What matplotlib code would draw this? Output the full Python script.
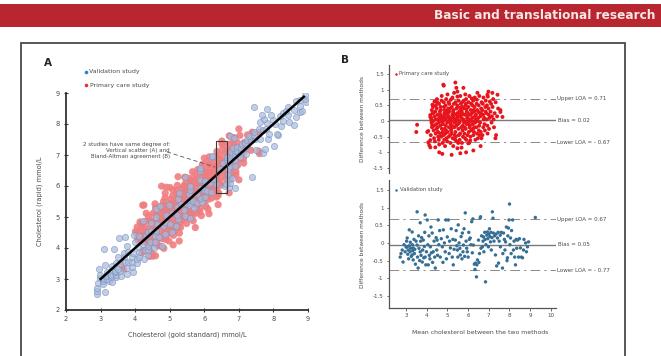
import matplotlib
matplotlib.use('Agg')
import matplotlib.pyplot as plt
import numpy as np
from matplotlib.patches import Rectangle
from matplotlib.lines import Line2D
from matplotlib.transforms import blended_transform_factory

plt.rcParams['font.family'] = ['DejaVu Sans']
plt.rcParams['lines.scale_dashes'] = False

# ---------------- data ----------------
# Bland-Altman (mean of methods, rapid - gold) pairs
validation_ba = [
    (2.71,-0.40),(2.75,-0.30),(2.81,-0.20),(2.85,-0.54),(2.90,-0.05),(2.95,-0.25),(3.00,-0.12),(3.02,0.05),
    (3.05,-0.11),(3.05,0.14),(3.08,-0.32),(3.10,-0.20),(3.12,-0.45),(3.15,0.37),(3.15,-0.08),(3.19,-0.25),
    (3.20,0.02),(3.22,-0.15),(3.25,-0.38),(3.29,0.31),(3.29,-0.34),(3.30,-0.05),(3.32,-0.22),(3.34,-0.14),
    (3.34,-0.48),(3.38,0.10),(3.40,-0.30),(3.42,-0.18),(3.45,-0.60),(3.48,0.05),
    (3.53,0.88),(3.53,-0.06),(3.55,-0.40),(3.58,-0.71),(3.60,0.20),(3.62,-0.15),(3.65,-0.50),(3.68,0.57),
    (3.68,-0.25),(3.70,0.05),(3.72,-0.35),(3.75,0.15),(3.78,-0.54),(3.80,-0.20),(3.83,0.08),(3.85,-0.42),
    (3.88,-0.10),(3.90,0.30),(3.92,0.79),(3.92,-0.40),(3.95,-0.62),(3.98,-0.25),(4.02,0.65),(4.05,-0.05),
    (4.07,-0.62),(4.10,0.20),(4.12,-0.35),(4.15,-0.45),(4.17,-0.11),(4.20,0.45),(4.22,-0.28),(4.26,0.28),
    (4.28,-0.55),(4.31,-0.25),(4.35,0.05),(4.38,-0.40),(4.41,-0.71),(4.45,0.15),(4.48,-0.20),(4.50,0.08),
    (4.52,-0.35),(4.55,0.65),(4.58,-0.05),(4.62,0.35),(4.65,-0.40),(4.70,0.12),(4.75,-0.11),(4.78,-0.55),
    (4.80,0.37),(4.85,0.00),(4.89,-0.25),(4.92,0.65),(4.95,-0.45),(4.99,0.17),(5.04,0.65),(5.08,-0.30),
    (5.10,0.05),(5.14,-0.14),(5.18,0.40),(5.23,-0.40),(5.26,0.10),(5.28,-0.62),(5.32,-0.18),(5.38,0.08),
    (5.42,0.35),(5.45,-0.08),(5.48,-0.20),(5.50,-0.40),
    (5.52,0.51),(5.56,0.00),(5.60,-0.15),(5.62,-0.34),(5.66,0.18),(5.70,-0.45),(5.72,0.28),(5.75,-0.25),
    (5.77,-0.06),(5.80,0.40),(5.83,-0.38),(5.86,0.85),(5.90,0.05),(5.93,-0.15),(5.96,-0.25),(6.00,-0.40),
    (6.03,0.30),(6.06,0.10),(6.10,0.14),(6.13,-0.05),(6.17,0.60),(6.20,-0.28),(6.23,0.68),(6.25,-0.06),
    (6.30,-0.60),(6.33,-0.75),(6.35,-0.57),(6.40,-0.96),(6.42,-0.62),(6.45,-0.48),
    (6.50,0.08),(6.52,-0.55),(6.55,-0.30),(6.58,0.70),(6.60,0.74),(6.62,-0.15),(6.65,0.20),(6.69,-0.11),
    (6.72,0.05),(6.74,0.17),(6.76,-0.25),(6.80,0.30),(6.82,0.10),(6.84,-1.10),(6.86,-0.05),(6.90,0.22),
    (6.93,0.31),(6.95,0.12),(6.98,-0.11),(7.00,0.25),(7.03,0.40),(7.05,0.18),(7.08,0.03),(7.10,0.30),
    (7.12,-0.20),(7.15,0.15),(7.17,0.88),(7.20,0.70),(7.22,0.28),(7.25,0.05),(7.28,0.20),(7.32,-0.34),
    (7.35,0.25),(7.38,-0.65),(7.42,0.14),(7.45,0.30),(7.47,-0.57),(7.50,0.05),(7.55,0.22),(7.56,-0.11),
    (7.60,0.30),(7.66,-0.71),(7.68,-0.30),
    (7.71,0.28),(7.75,0.10),(7.78,-0.20),(7.81,0.03),(7.85,0.45),(7.88,-0.50),(7.90,-0.42),(7.92,0.20),
    (7.95,0.42),(7.98,0.65),(8.00,1.10),(8.02,-0.05),(8.05,0.14),(8.08,-0.30),(8.10,0.35),(8.15,0.65),
    (8.19,-0.20),(8.22,0.05),(8.25,-0.40),(8.29,-0.62),(8.32,0.10),(8.35,-0.15),(8.39,0.08),(8.44,-0.40),
    (8.48,0.12),(8.53,-0.14),(8.58,-0.40),(8.63,-0.42),(8.68,-0.20),(8.70,0.10),(8.78,0.00),(8.82,-0.25),
    (8.87,-0.11),(8.92,0.03),(9.25,0.72),
]

primary_ba = [
    (3.49,-0.35),(3.53,-0.12),(4.02,-0.35),(4.07,-0.32),(4.07,-0.68),(4.12,-0.77),(4.17,-0.61),(4.17,-0.84),
    (4.41,-0.84),(4.75,-1.05),(4.60,-1.00),(4.80,1.16),(4.82,1.13),(5.38,1.23),(5.43,1.06),(5.48,0.94),
    (5.77,1.06),(6.45,0.90),(6.93,0.84),(6.98,0.94),(7.17,0.90),(7.42,0.84),(7.56,0.29),(7.56,0.35),
    (7.66,0.13),(7.32,-0.55),(6.25,-0.94),(5.62,-1.03),(5.48,-0.87),(6.00,-0.71),(4.31,0.26),(4.17,0.13),
    (4.26,-0.13),(4.21,0.03),(4.17,0.19),(5.90,-1.00),(6.60,-0.80),(5.20,-1.08),
    (4.22,0.10),(4.25,-0.20),(4.19,-0.45),(4.24,0.35),(4.27,0.52),(4.23,-0.05),
    (4.28,0.25),(4.33,-0.30),(4.31,0.00),(4.35,-0.55),(4.30,0.45),(4.34,-0.15),(4.37,0.62),
    (4.38,0.15),(4.43,-0.40),(4.41,0.30),(4.45,-0.10),(4.39,-0.65),(4.44,0.50),(4.42,0.05),(4.47,-0.25),
    (4.48,0.40),(4.53,-0.20),(4.51,0.05),(4.55,-0.50),(4.49,0.70),(4.54,-0.35),(4.52,0.20),(4.57,-0.05),(4.50,0.60),
    (4.58,-0.60),(4.63,0.30),(4.61,0.10),(4.65,-0.15),(4.59,0.55),(4.64,-0.40),(4.62,0.00),(4.67,0.45),(4.60,-0.75),(4.66,0.20),
    (4.68,0.35),(4.73,-0.25),(4.71,0.65),(4.75,-0.05),(4.69,-0.50),(4.74,0.15),(4.72,0.80),(4.77,-0.35),(4.70,0.05),(4.76,-0.70),
    (4.78,-0.10),(4.83,0.45),(4.81,-0.45),(4.85,0.25),(4.79,0.00),(4.84,-0.60),(4.82,0.60),(4.87,-0.25),(4.80,0.12),(4.86,0.35),(4.88,-0.80),
    (4.88,0.20),(4.93,-0.30),(4.91,0.50),(4.95,-0.55),(4.89,0.05),(4.94,0.70),(4.92,-0.15),(4.97,0.32),(4.90,-0.40),(4.96,0.10),
    (4.98,-0.05),(5.03,0.40),(5.01,-0.35),(5.05,0.60),(4.99,-0.65),(5.04,0.15),(5.02,0.25),(5.07,-0.20),(5.00,0.85),(5.06,-0.50),(5.08,0.00),
    (5.08,0.30),(5.13,-0.45),(5.11,0.10),(5.15,-0.10),(5.09,0.55),(5.14,-0.70),(5.12,0.40),(5.17,-0.25),(5.10,0.05),(5.16,0.68),
    (5.18,-0.30),(5.23,0.20),(5.21,0.45),(5.25,-0.55),(5.19,0.00),(5.24,0.75),(5.22,-0.15),(5.27,0.30),(5.20,-0.40),(5.26,0.10),(5.28,-0.80),
    (5.28,0.15),(5.33,-0.20),(5.31,0.55),(5.35,-0.45),(5.29,0.35),(5.34,-0.05),(5.32,0.90),(5.37,-0.60),(5.30,0.25),(5.36,0.05),
    (5.38,-0.35),(5.43,0.40),(5.41,0.00),(5.45,-0.65),(5.39,0.60),(5.44,0.20),(5.42,-0.15),(5.47,0.50),(5.40,-0.50),(5.46,0.10),(5.48,0.78),
    (5.48,0.25),(5.53,-0.25),(5.51,0.45),(5.55,-0.45),(5.49,0.05),(5.54,0.65),(5.52,-0.70),(5.57,0.30),(5.50,-0.10),(5.56,0.15),
    (5.58,-0.05),(5.63,0.35),(5.61,-0.40),(5.65,0.55),(5.59,-0.60),(5.64,0.20),(5.62,0.80),(5.67,-0.20),(5.60,0.00),(5.66,0.42),(5.68,-0.85),
    (5.68,0.10),(5.73,-0.30),(5.71,0.60),(5.75,-0.50),(5.69,0.30),(5.74,-0.15),(5.72,0.45),(5.77,0.05),(5.70,-0.70),(5.76,0.22),
    (5.78,0.40),(5.83,-0.20),(5.81,0.00),(5.85,-0.55),(5.79,0.65),(5.84,0.20),(5.82,-0.40),(5.87,0.50),(5.80,-0.05),(5.86,0.85),
    (5.88,-0.25),(5.93,0.30),(5.91,-0.60),(5.95,0.10),(5.89,0.55),(5.94,-0.10),(5.92,0.38),(5.97,-0.45),(5.90,0.70),(5.96,0.00),
    (5.98,0.15),(6.03,-0.35),(6.01,0.45),(6.05,-0.70),(5.99,0.25),(6.04,-0.05),(6.02,0.60),(6.07,-0.20),(6.00,0.05),(6.06,0.80),
    (6.08,-0.15),(6.13,0.35),(6.11,-0.50),(6.15,0.55),(6.09,0.05),(6.14,-0.30),(6.12,0.20),(6.17,0.72),(6.10,-0.62),
    (6.18,0.25),(6.23,-0.25),(6.21,0.50),(6.25,-0.45),(6.19,0.00),(6.24,0.65),(6.22,-0.10),(6.27,0.35),(6.20,0.10),
    (6.28,-0.35),(6.33,0.15),(6.31,0.45),(6.35,-0.60),(6.29,0.30),(6.34,-0.05),(6.32,0.75),(6.37,0.05),(6.30,-0.20),
    (6.38,0.20),(6.43,-0.40),(6.41,0.55),(6.45,0.00),(6.39,-0.20),(6.44,0.35),(6.42,0.68),(6.47,-0.55),
    (6.48,0.30),(6.53,-0.15),(6.51,0.50),(6.55,-0.45),(6.49,0.10),(6.54,0.80),(6.52,-0.30),(6.57,0.25),
    (6.58,-0.05),(6.63,0.40),(6.61,-0.35),(6.65,0.60),(6.59,0.15),(6.64,-0.55),(6.62,0.25),
    (6.68,0.35),(6.73,-0.20),(6.71,0.55),(6.75,0.05),(6.69,-0.45),(6.74,0.75),(6.72,0.20),
    (6.78,0.10),(6.83,0.45),(6.81,-0.30),(6.85,0.65),(6.79,-0.10),(6.84,0.30),
    (6.88,0.25),(6.93,-0.15),(6.91,0.50),(6.95,0.78),(6.89,0.05),(6.94,-0.40),
    (6.98,0.40),(7.03,0.10),(7.01,-0.25),(7.05,0.62),(6.99,0.20),
    (7.08,0.30),(7.13,-0.05),(7.11,0.55),(7.15,0.15),
    (7.18,0.45),(7.23,0.05),(7.21,0.70),(7.25,-0.20),
    (7.28,0.25),(7.33,0.60),(7.35,-0.45),
    (7.40,0.15),(7.45,0.40),
]

# limits of agreement lines [upper, bias, lower]
primary_lines = [0.71, 0.02, -0.67]
validation_lines = [0.67, -0.05, -0.77]
primary_labels = ['Upper LOA = 0.71', 'Bias = 0.02', 'Lower LOA = - 0.67']
validation_labels = ['Upper LOA = 0.67', 'Bias = 0.05', 'Lower LOA = - 0.77']

ticksA = [2, 3, 4, 5, 6, 7, 8, 9]
ticksB_y = [1.5, 1, 0.5, 0, -0.5, -1, -1.5]
ticksB_y_labels = ['1.5', '1', '0.5', '0', '-0.5', '-1', '-1.5']
ticksB_x = [3, 4, 5, 6, 7, 8, 9, 10]

val_mean = np.array([p[0] for p in validation_ba])
val_diff = np.array([p[1] for p in validation_ba])
pc_mean = np.array([p[0] for p in primary_ba])
pc_diff = np.array([p[1] for p in primary_ba])
val_gold, val_rapid = val_mean - val_diff / 2, val_mean + val_diff / 2
pc_gold, pc_rapid = pc_mean - pc_diff / 2, pc_mean + pc_diff / 2

# ---------------- layout helpers ----------------
W, H = 661, 356
def fx(x): return x / W
def fy(y): return 1 - y / H
def rect(l, t, r, b): return [l / W, 1 - b / H, (r - l) / W, (b - t) / H]

TXT = '#4a4a4a'
fig = plt.figure(figsize=(6.61, 3.56), dpi=100)

# header bar
fig.patches.append(Rectangle((0, fy(27)), 1, 23 / H, transform=fig.transFigure,
                             facecolor='#b8262f', edgecolor='none'))
fig.text(fx(655), fy(15.5), 'Basic and translational research', ha='right', va='center',
         color='#f7e6e6', fontsize=8.7, fontweight='bold')
# panel frame
fig.patches.append(Rectangle((fx(21), -0.05), fx(625) - fx(21), fy(43) + 0.05,
                             transform=fig.transFigure, fill=False, edgecolor='#4a4a4a', lw=1.3))

# ---------------- panel A ----------------
axA = fig.add_axes(rect(66, 93, 308, 310))
axA.set_xlim(2, 9)
axA.set_ylim(2, 9)
axA.scatter(pc_gold, pc_rapid, s=27, color='#ef7d80', alpha=0.9, edgecolors='none', zorder=2)
axA.scatter(val_gold, val_rapid, s=20, facecolor='#a9bbdb', edgecolors='#7e96c3', linewidths=0.6,
            alpha=0.7, zorder=3)
axA.plot([3, 8.88], [3, 8.88], color='black', lw=1.8, zorder=4)
axA.add_patch(Rectangle((6.35, 5.77), 0.3, 1.68, fill=False, ec='#3a3a3a', lw=0.8, zorder=5))
axA.plot([4.92, 6.31], [7.1, 6.61], color='#555555', lw=0.6, dashes=(3, 2), zorder=5)
axA.text(5.0, 7.16, '2 studies have same degree of:\nVertical scatter (A) and\nBland-Altman agreement (B)',
         ha='right', va='center', fontsize=4, color=TXT, linespacing=1.25, zorder=6)
for s in ['top', 'right']:
    axA.spines[s].set_visible(False)
for s in ['left', 'bottom']:
    axA.spines[s].set_color('#333333')
    axA.spines[s].set_linewidth(1.3)
axA.set_xticks(ticksA)
axA.set_yticks(ticksA)
axA.tick_params(direction='inout', length=3, width=0.8, colors='#333333', labelsize=4.8,
                labelcolor=TXT, pad=3)
fig.text(fx(187), fy(335), 'Cholesterol (gold standard) mmol/L', ha='center', va='center',
         fontsize=4.8, color=TXT)
fig.text(fx(40), fy(201), 'Cholesterol (rapid) mmol/L', ha='center', va='center',
         rotation=90, fontsize=4.8, color=TXT)
fig.text(fx(48), fy(63), 'A', ha='center', va='center', fontsize=7.5, fontweight='bold', color='#222222')
fig.add_artist(Line2D([fx(86)], [fy(72)], marker='o', ms=2.6, color='#2f7fc1', mec='none',
                      transform=fig.transFigure))
fig.text(fx(89), fy(72), 'Validation study', ha='left', va='center', fontsize=4.5, color=TXT)
fig.add_artist(Line2D([fx(86)], [fy(85)], marker='o', ms=2.6, color='#e8322f', mec='none',
                      transform=fig.transFigure))
fig.text(fx(90), fy(85), 'Primary care study', ha='left', va='center', fontsize=4.5, color=TXT)

# ---------------- panel B ----------------
fig.text(fx(345), fy(60), 'B', ha='center', va='center', fontsize=7.5, fontweight='bold', color='#222222')

def style_b(ax, ylims):
    ax.set_xlim(2.17, 10.25)
    ax.set_ylim(*ylims)
    ax.spines['top'].set_visible(False)
    ax.spines['right'].set_visible(False)
    ax.spines['left'].set_color('#555555')
    ax.spines['left'].set_linewidth(0.9)
    ax.spines['bottom'].set_color('#555555')
    ax.spines['bottom'].set_linewidth(0.9)
    ax.set_yticks(ticksB_y)
    ax.set_yticklabels(ticksB_y_labels)
    ax.tick_params(direction='out', length=1.8, width=0.6, colors='#555555', labelsize=4,
                   labelcolor=TXT, pad=2)

def loa_lines(ax, vals, labels):
    tr = blended_transform_factory(ax.transAxes, ax.transData)
    for i, (v, lab) in enumerate(zip(vals, labels)):
        if i == 1:
            ax.axhline(v, color='#7a7a7a', lw=1.0, zorder=1)
            ax.text(1.012, v, lab, transform=tr, ha='left', va='center', fontsize=4, color=TXT)
        else:
            ax.axhline(v, color='#8a8a8a', lw=0.7, dashes=(7, 3, 1.5, 3), zorder=1)
            ax.text(1.005, v, lab, transform=tr, ha='left', va='center', fontsize=4, color=TXT)

axB1 = fig.add_axes(rect(389, 65, 556, 173))
style_b(axB1, (-1.66, 1.79))
axB1.spines['bottom'].set_visible(False)
axB1.set_xticks([])
loa_lines(axB1, primary_lines, primary_labels)
axB1.scatter(pc_mean, pc_diff, s=8, color='#e8141c', edgecolors='none', zorder=3)
fig.add_artist(Line2D([fx(396)], [fy(74)], marker='o', ms=1.8, color='#e8141c', mec='none',
                      transform=fig.transFigure))
fig.text(fx(399), fy(74), 'Primary care study', ha='left', va='center', fontsize=3.8, color=TXT)
fig.text(fx(363), fy(119), 'Difference between methods', ha='center', va='center', rotation=90,
         fontsize=4.2, color=TXT)

axB2 = fig.add_axes(rect(389, 180, 556, 308))
style_b(axB2, (-1.84, 1.78))
axB2.set_xticks(ticksB_x)
loa_lines(axB2, validation_lines, validation_labels)
axB2.scatter(val_mean, val_diff, s=6, color='#356f95', edgecolors='none', zorder=3)
fig.add_artist(Line2D([fx(396)], [fy(190)], marker='o', ms=1.8, color='#356f95', mec='none',
                      transform=fig.transFigure))
fig.text(fx(400), fy(190), 'Validation study', ha='left', va='center', fontsize=3.8, color=TXT)
fig.text(fx(363), fy(245), 'Difference between methods', ha='center', va='center', rotation=90,
         fontsize=4.2, color=TXT)
fig.text(fx(480), fy(332), 'Mean cholesterol between the two methods', ha='center', va='center',
         fontsize=4.4, color=TXT)

fig.savefig('out.png', dpi=100)
